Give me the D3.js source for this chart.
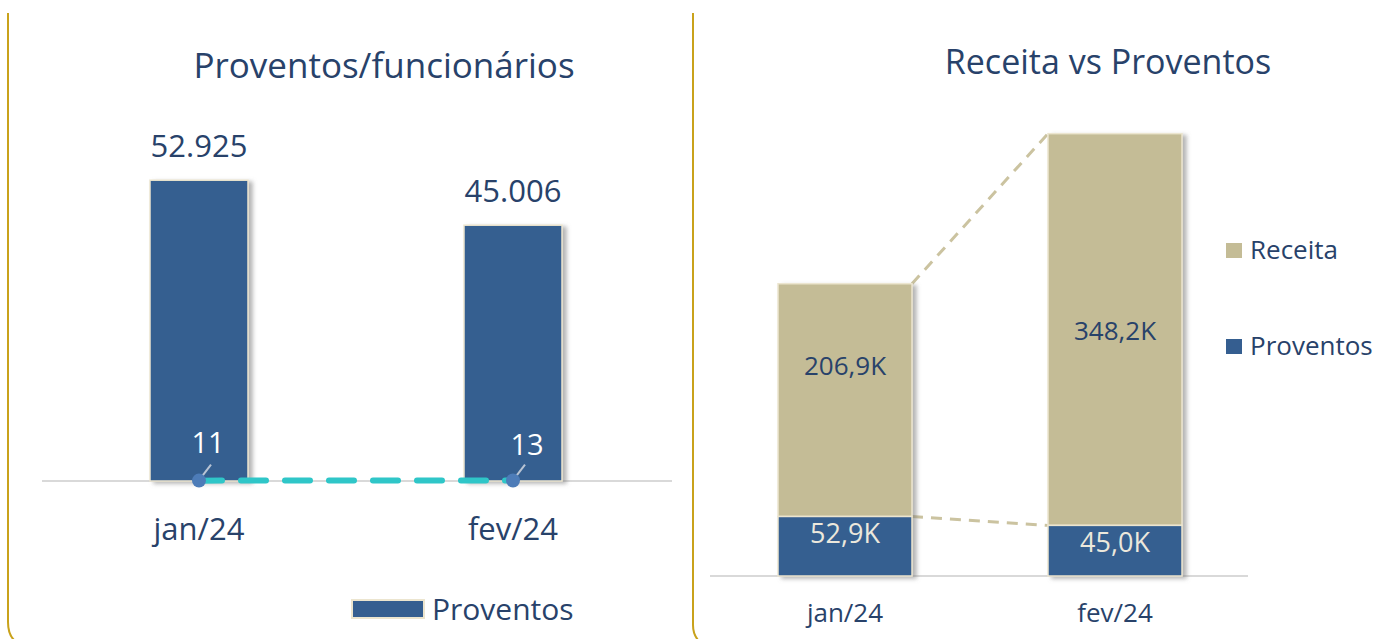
<!DOCTYPE html>
<html>
<head>
<meta charset="utf-8">
<script src="https://cdn.jsdelivr.net/npm/d3@7"></script>
<style>
  html, body { margin: 0; padding: 0; background: #fff; }
  svg { display: block; font-family: "Open Sans", Lato, sans-serif; }
</style>
</head>
<body>
<script>
// data
const months = ['jan/24', 'fev/24'];
const proventos = [52925, 45006];
const funcionarios = [11, 13];
const receitaK = [206.9, 348.2];
const proventosK = [52.9, 45.0];

const W = 1374, H = 639;
const navy = '#28426a';
const blue = '#355e90';
const beige = '#c4bc96';
const edge = '#ece5cf';

const svg = d3.select('body').append('svg')
    .attr('width', W)
    .attr('height', H);

const defs = svg.append('defs');
defs.append('filter').attr('id', 'shadow')
    .attr('x', '-10%').attr('y', '-10%').attr('width', '130%').attr('height', '130%')
  .append('feDropShadow')
    .attr('dx', 4).attr('dy', 2).attr('stdDeviation', 2)
    .attr('flood-color', '#777').attr('flood-opacity', 0.55);

// panel borders (gold)
svg.append('path')
    .attr('d', 'M8,13 L8,622 Q8,634 14,640')
    .attr('fill', 'none').attr('stroke', '#c9a21b').attr('stroke-width', 2);
svg.append('path')
    .attr('d', 'M693,13 L693,625 Q693,634 698,640')
    .attr('fill', 'none').attr('stroke', '#c9a21b').attr('stroke-width', 2);

// ---------- left chart ----------
const left = svg.append('g');

left.append('text')
    .attr('x', 384).attr('y', 78)
    .attr('text-anchor', 'middle')
    .attr('font-size', 35).attr('fill', navy)
    .text('Proventos/funcionários');

const x1 = d3.scalePoint().domain(months).range([199, 513]);
const y1 = d3.scaleLinear().domain([0, 60000]).range([481, 140]);
const y1b = d3.scaleLinear().domain([0, 10000]).range([481, 140]);
const barW1 = 98;

left.append('line')
    .attr('x1', 42).attr('x2', 672).attr('y1', y1(0)).attr('y2', y1(0))
    .attr('stroke', '#d9d9d9').attr('stroke-width', 2);

left.selectAll('rect.prov').data(proventos).enter()
  .append('rect')
    .attr('class', 'prov')
    .attr('x', (d, i) => x1(months[i]) - barW1 / 2)
    .attr('y', d => y1(d))
    .attr('width', barW1)
    .attr('height', d => y1(0) - y1(d))
    .attr('fill', blue)
    .attr('stroke', edge).attr('stroke-width', 1.5)
    .attr('filter', 'url(#shadow)');

left.selectAll('text.val').data(proventos).enter()
  .append('text')
    .attr('class', 'val')
    .attr('x', (d, i) => x1(months[i]))
    .attr('y', d => y1(d) - 23)
    .attr('text-anchor', 'middle')
    .attr('font-size', 31).attr('fill', navy)
    .text(d => d3.format(',')(d).replace(/,/g, '.'));

// funcionarios line (secondary axis)
const line = d3.line()
    .x((d, i) => x1(months[i]))
    .y(d => y1b(d));
left.append('path')
    .datum(funcionarios)
    .attr('d', line)
    .attr('fill', 'none')
    .attr('stroke', '#2fc6c8').attr('stroke-width', 6)
    .attr('stroke-linecap', 'round')
    .attr('stroke-dasharray', '25 19')
    .attr('stroke-dashoffset', 2);

// leader lines
left.selectAll('line.lead').data(funcionarios).enter()
  .append('line')
    .attr('class', 'lead')
    .attr('x1', (d, i) => x1(months[i]) + 12)
    .attr('y1', d => y1b(d) - 16)
    .attr('x2', (d, i) => x1(months[i]) + 2)
    .attr('y2', d => y1b(d) - 3)
    .attr('stroke', '#b9c4d4').attr('stroke-width', 2);

left.selectAll('circle.mk').data(funcionarios).enter()
  .append('circle')
    .attr('class', 'mk')
    .attr('cx', (d, i) => x1(months[i]))
    .attr('cy', d => y1b(d))
    .attr('r', 7)
    .attr('fill', '#4d7cb8');

left.selectAll('text.fn').data(funcionarios).enter()
  .append('text')
    .attr('class', 'fn')
    .attr('x', (d, i) => x1(months[i]) + 9 + i * 5)
    .attr('y', (d, i) => y1b(d) - 28 + i * 2)
    .attr('text-anchor', 'middle')
    .attr('font-size', 29).attr('fill', '#fff')
    .text(d => d);

left.selectAll('text.cat').data(months).enter()
  .append('text')
    .attr('class', 'cat')
    .attr('x', d => x1(d))
    .attr('y', 540)
    .attr('text-anchor', 'middle')
    .attr('font-size', 31).attr('fill', navy)
    .text(d => d);

// legend
left.append('rect')
    .attr('x', 352).attr('y', 600).attr('width', 72).attr('height', 18)
    .attr('fill', blue).attr('stroke', edge).attr('stroke-width', 2);
left.append('text')
    .attr('x', 432).attr('y', 620)
    .attr('font-size', 30).attr('fill', navy)
    .text('Proventos');

// ---------- right chart ----------
const right = svg.append('g');

right.append('text')
    .attr('x', 1108).attr('y', 74)
    .attr('text-anchor', 'middle')
    .attr('font-size', 34).attr('fill', navy)
    .text('Receita vs Proventos');

const x2 = d3.scalePoint().domain(months).range([845, 1115]);
const y2 = d3.scaleLinear().domain([0, 400]).range([576, 126]);
const barW2 = 134;

const stack = months.map((m, i) => ({
    m: m,
    p: proventosK[i],
    r: receitaK[i]
}));

// dashed series lines between bars
const seriesLines = [
    stack.map(d => d.p),
    stack.map(d => d.p + d.r)
];
right.selectAll('line.ser').data(seriesLines).enter()
  .append('line')
    .attr('class', 'ser')
    .attr('x1', x2(months[0]) + barW2 / 2)
    .attr('y1', d => y2(d[0]))
    .attr('x2', x2(months[1]) - barW2 / 2)
    .attr('y2', d => y2(d[1]))
    .attr('stroke', '#cbc3a0').attr('stroke-width', 3)
    .attr('stroke-dasharray', '11 8');

right.append('line')
    .attr('x1', 710).attr('x2', 1248).attr('y1', y2(0)).attr('y2', y2(0))
    .attr('stroke', '#d9d9d9').attr('stroke-width', 2);

const bars = right.selectAll('g.bar').data(stack).enter()
  .append('g').attr('class', 'bar')
    .attr('filter', 'url(#shadow)');

bars.append('rect')
    .attr('x', d => x2(d.m) - barW2 / 2)
    .attr('y', d => y2(d.p + d.r))
    .attr('width', barW2)
    .attr('height', d => y2(d.p) - y2(d.p + d.r))
    .attr('fill', beige)
    .attr('stroke', edge).attr('stroke-width', 1.5);

bars.append('rect')
    .attr('x', d => x2(d.m) - barW2 / 2)
    .attr('y', d => y2(d.p))
    .attr('width', barW2)
    .attr('height', d => y2(0) - y2(d.p))
    .attr('fill', blue)
    .attr('stroke', edge).attr('stroke-width', 1.5);

const fmtK = v => v.toFixed(1).replace('.', ',') + 'K';

// the jan label sits higher than the segment middle in the original
right.selectAll('text.rv').data(stack).enter()
  .append('text')
    .attr('class', 'rv')
    .attr('x', d => x2(d.m))
    .attr('y', (d, i) => (y2(d.p) + y2(d.p + d.r)) / 2 + 10 - (i === 0 ? 35 : 0))
    .attr('text-anchor', 'middle')
    .attr('font-size', 26).attr('fill', navy)
    .text(d => fmtK(d.r));

// proventos labels: inside end
right.selectAll('text.pv').data(stack).enter()
  .append('text')
    .attr('class', 'pv')
    .attr('x', d => x2(d.m))
    .attr('y', d => y2(d.p) + 27)
    .attr('text-anchor', 'middle')
    .attr('font-size', 27).attr('fill', '#ece8dc')
    .text(d => fmtK(d.p));

right.selectAll('text.cat').data(months).enter()
  .append('text')
    .attr('class', 'cat')
    .attr('x', d => x2(d))
    .attr('y', 622)
    .attr('text-anchor', 'middle')
    .attr('font-size', 26).attr('fill', navy)
    .text(d => d);

// legend
const legend = [
    { name: 'Receita', color: beige, y: 250 },
    { name: 'Proventos', color: blue, y: 346 }
];
const lg = right.selectAll('g.lg').data(legend).enter()
  .append('g').attr('class', 'lg');
lg.append('rect')
    .attr('x', 1226).attr('y', d => d.y - 7)
    .attr('width', 16).attr('height', 15)
    .attr('fill', d => d.color);
lg.append('text')
    .attr('x', 1250).attr('y', d => d.y + 9)
    .attr('font-size', 26).attr('fill', navy)
    .text(d => d.name);
</script>
</body>
</html>
